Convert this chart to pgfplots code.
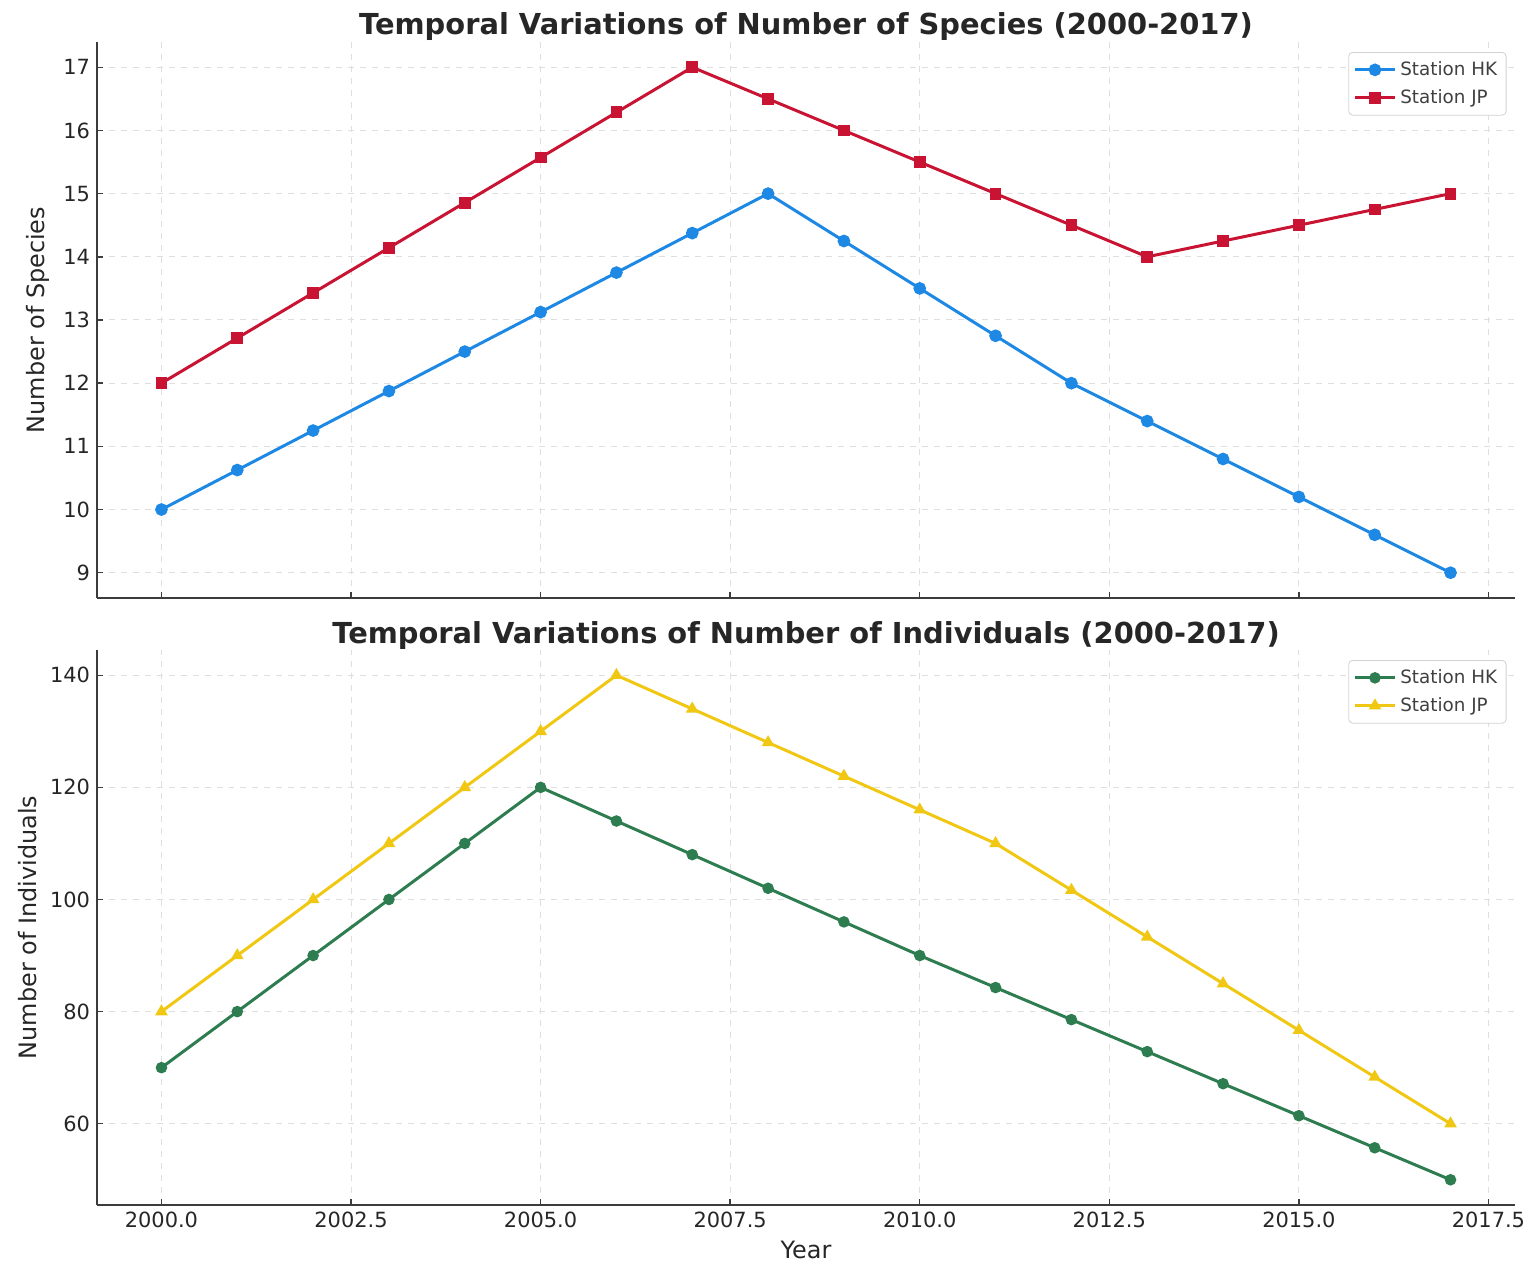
\documentclass[border=0pt]{standalone}
\usepackage{pgfplots}
\pgfplotsset{compat=1.18}
\usepackage{fontspec}
\setmainfont{DejaVu Sans}
\definecolor{cblue}{RGB}{30,136,229}
\definecolor{cred}{RGB}{200,20,50}
\definecolor{cgreen}{RGB}{46,125,80}
\definecolor{cyellow}{RGB}{240,200,20}
\definecolor{spine}{RGB}{60,60,60}
\pgfplotsset{
  mystyle/.style={
    scale only axis, width=709bp, height=278bp,
    xmin=1999.15, xmax=2017.85,
    axis x line=bottom, axis y line=left,
    axis line style={-, spine, line width=0.9bp},
    tick align=inside, major tick length=3bp,
    tick style={spine, line width=0.7bp},
    xtick={2000,2002.5,...,2017.5},
    grid=major,
    grid style={dashed, gray!25, line width=0.5bp},
    /pgf/number format/assume math mode=true,
    ticklabel style={font=\fontsize{10.5}{12}\selectfont, text=black!85},
    label style={font=\fontsize{12}{14}\selectfont, text=black!85},
    title style={font=\fontsize{14.5}{17}\selectfont\bfseries, text=black!85, yshift=-9bp},
    legend style={at={(0.994,0.982)}, anchor=north east, draw=gray!35, rounded corners=2pt,
      font=\fontsize{9.2}{11}\selectfont, text=black!75, cells={anchor=west},
      row sep=1.5bp, inner sep=2.5bp},
    legend image code/.code={\draw[mark repeat=2,mark phase=2] plot coordinates {(0cm,0cm)(0.35cm,0cm)(0.7cm,0cm)};},
    every axis plot/.append style={line width=1.5bp},
  }
}
\begin{document}
\begin{tikzpicture}
\path[use as bounding box] (-48.5bp,-336.5bp) rectangle (719bp,299bp);
\begin{axis}[mystyle, at={(0,0)}, anchor=south west,
  ymin=8.6, ymax=17.4, ytick={9,10,...,17},
  xticklabels={},
  ylabel={Number of Species},
  title={Temporal Variations of Number of Species (2000-2017)}]
\addplot[color=cblue, mark=*, mark size=2.4bp] coordinates {
(2000,10) (2001,10.625) (2002,11.25) (2003,11.875) (2004,12.5) (2005,13.125) (2006,13.75) (2007,14.375) (2008,15)
(2009,14.25) (2010,13.5) (2011,12.75) (2012,12) (2013,11.4) (2014,10.8) (2015,10.2) (2016,9.6) (2017,9)};
\addlegendentry{Station HK}
\addplot[color=cred, mark=square*, mark size=2.2bp] coordinates {
(2000,12) (2001,12.714) (2002,13.429) (2003,14.143) (2004,14.857) (2005,15.571) (2006,16.286) (2007,17)
(2008,16.5) (2009,16) (2010,15.5) (2011,15) (2012,14.5) (2013,14) (2014,14.25) (2015,14.5) (2016,14.75) (2017,15)};
\addlegendentry{Station JP}
\end{axis}
\begin{axis}[mystyle, at={(0,-303.5bp)}, anchor=south west,
  height=277.5bp,
  ymin=45.5, ymax=144.5, ytick={60,80,...,140},
  xticklabel style={/pgf/number format/.cd, fixed, fixed zerofill, precision=1, 1000 sep={}},
  xlabel={Year},
  ylabel={Number of Individuals},
  title={Temporal Variations of Number of Individuals (2000-2017)}]
\addplot[color=cgreen, mark=*, mark size=2.1bp] coordinates {
(2000,70) (2001,80) (2002,90) (2003,100) (2004,110) (2005,120) (2006,114) (2007,108) (2008,102) (2009,96)
(2010,90) (2011,84.29) (2012,78.57) (2013,72.86) (2014,67.14) (2015,61.43) (2016,55.71) (2017,50)};
\addlegendentry{Station HK}
\addplot[color=cyellow, mark=triangle*, mark size=2.2bp] coordinates {
(2000,80) (2001,90) (2002,100) (2003,110) (2004,120) (2005,130) (2006,140) (2007,134) (2008,128) (2009,122)
(2010,116) (2011,110) (2012,101.67) (2013,93.33) (2014,85) (2015,76.67) (2016,68.33) (2017,60)};
\addlegendentry{Station JP}
\end{axis}
\end{tikzpicture}
\end{document}
